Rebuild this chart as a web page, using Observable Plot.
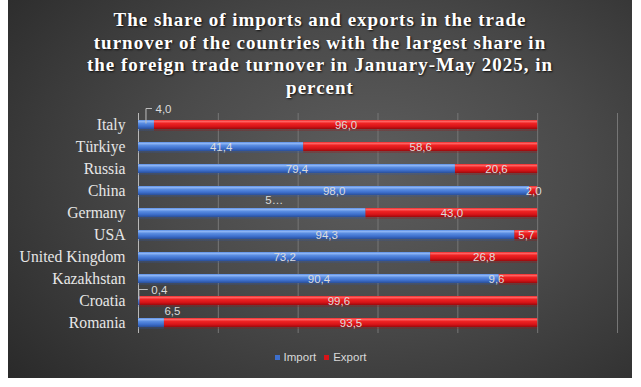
<!DOCTYPE html>
<html>
<head>
<meta charset="utf-8">
<script src="https://cdn.jsdelivr.net/npm/d3@7"></script>
<script src="https://cdn.jsdelivr.net/npm/@observablehq/plot@0.6"></script>
<style>
  html, body { margin: 0; padding: 0; background: #ffffff; }
  #wrap { position: relative; width: 641px; height: 387px; overflow: hidden; }
  #bg { position: absolute; left: 8px; top: 0px; width: 624px; height: 378px;
        background: radial-gradient(ellipse 75% 85% at 58% 45%, #5e5e5e 0%, #4a4a4a 45%, #2a2a2a 100%); }
  #title { position: absolute; left: 8px; top: 9px; width: 624px; text-align: center;
           font-family: "Liberation Serif", serif; font-weight: bold; font-size: 19px;
           line-height: 22.5px; letter-spacing: 1px; color: #ffffff;
           text-shadow: 1px 1px 2px rgba(0,0,0,0.8); }
  #legend { position: absolute; top: 351px; left: 0; width: 641px; text-align: center;
            font-family: "Liberation Sans", sans-serif; font-size: 11.5px; color: #d9d9d9; }
  #legend span.item { display: inline-block; margin: 0 4px; }
  #legend span.sw { display: inline-block; width: 5px; height: 5px; margin-right: 4px; vertical-align: 1px; }
  #chart { position: absolute; left: 0; top: 0; }
</style>
</head>
<body>
<div id="wrap">
  <div id="bg"></div>
  <div id="chart"></div>
  <div id="title">The share of imports and exports in the trade<br>turnover of the countries with the largest share in<br>the foreign trade turnover in January-May 2025, in<br>percent</div>
  <div id="legend"></div>
</div>
<script>
const countries = ["Italy", "Türkiye", "Russia", "China", "Germany", "USA", "United Kingdom", "Kazakhstan", "Croatia", "Romania"];
const importShare = [4.0, 41.4, 79.4, 98.0, 57.0, 94.3, 73.2, 90.4, 0.4, 6.5];
const exportShare = [96.0, 58.6, 20.6, 2.0, 43.0, 5.7, 26.8, 9.6, 99.6, 93.5];
const seriesNames = ["Import", "Export"];
const xTicks = [0, 20, 40, 60, 80, 100, 120];

// label placement tweaks (styling only)
const labelTweaks = {
  "Italy|Import": {dx: 9, dy: -16, anchor: "start", leader: true},
  "Croatia|Import": {dx: 12, dy: -11, anchor: "start", leader: true},
  "Romania|Import": {dx: 21, dy: -12},
  "Germany|Import": {dx: 22, dy: -13, text: "5…"},
  "Kazakhstan|Export": {dx: -22}
};

const fmt = v => v.toFixed(1).replace(".", ",");

const rows = [];
const labels = [];
countries.forEach((c, i) => {
  const vals = [importShare[i], exportShare[i]];
  let acc = 0;
  vals.forEach((v, k) => {
    rows.push({country: c, type: seriesNames[k], value: v});
    const key = c + "|" + seriesNames[k];
    const t = labelTweaks[key] || {};
    labels.push({country: c, type: seriesNames[k], mid: acc + v / 2, text: t.text || fmt(v),
                 dx: t.dx || 0, dy: t.dy || 0, anchor: t.anchor || "middle", leader: !!t.leader});
    acc += v;
  });
});

const labelMarks = labels.map(d =>
  Plot.text([d], {x: "mid", y: "country", text: "text", dx: d.dx, dy: d.dy, textAnchor: d.anchor,
    fill: "#dcdcdc", fontSize: 11.5, fontFamily: "Liberation Sans, sans-serif"}));

const chart = Plot.plot({
  width: 641,
  height: 387,
  marginLeft: 138,
  marginRight: 24,
  marginTop: 113,
  marginBottom: 54,
  style: {background: "transparent", overflow: "visible"},
  x: {domain: [0, 120], ticks: xTicks, axis: null},
  y: {domain: countries, paddingInner: 0.6, paddingOuter: 0.3, label: null},
  color: {domain: seriesNames, range: ["url(#gBlue)", "url(#gRed)"]},
  marks: [
    Plot.gridX(xTicks.slice(1), {stroke: "#767676", strokeOpacity: 1, strokeWidth: 1}),
    Plot.ruleX([0], {stroke: "#b8b8b8", strokeWidth: 1}),
    Plot.barX(rows, Plot.stackX({x: "value", y: "country", fill: "type", order: seriesNames,
      dy: 2, fillOpacity: 0.25})),
    Plot.barX(rows, Plot.stackX({x: "value", y: "country", fill: "type", order: seriesNames})),
    Plot.axisY({tickSize: 0, tickPadding: 13, fontSize: 15.7, fontFamily: "Liberation Serif, serif", color: "#e6e6e6", label: null}),
    ...labelMarks
  ]
});

// gradients for bevelled bars
const svg = d3.select(chart);
const defs = svg.insert("defs", ":first-child");
function grad(id, stops) {
  const g = defs.append("linearGradient").attr("id", id).attr("x1", 0).attr("y1", 0).attr("x2", 0).attr("y2", 1);
  stops.forEach(([o, c]) => g.append("stop").attr("offset", o).attr("stop-color", c));
}
grad("gBlue", [[0, "#5b8fe6"], [0.18, "#8fb6f5"], [0.35, "#5c8fe3"], [0.7, "#3d6fcc"], [1, "#2a4f99"]]);
grad("gRed", [[0, "#f02a2a"], [0.18, "#ff6464"], [0.35, "#f02424"], [0.7, "#d81418"], [1, "#9a0a0c"]]);

// leader lines from small segments to their labels
const xs = chart.scale("x"), ys = chart.scale("y");
labels.filter(d => d.leader).forEach(d => {
  const x0 = xs.apply(d.mid);
  const yc = ys.apply(d.country) + ys.bandwidth / 2;
  const yl = yc + d.dy;
  svg.append("path")
    .attr("d", `M${x0},${yc - 1}V${yl}H${x0 + d.dx - 3}`)
    .attr("fill", "none").attr("stroke", "#bdbdbd").attr("stroke-width", 1);
});

document.getElementById("chart").appendChild(chart);

// legend
const legendColors = {Import: "#3d6fcc", Export: "#d81418"};
document.getElementById("legend").innerHTML = seriesNames.map(n =>
  `<span class="item"><span class="sw" style="background:${legendColors[n]}"></span>${n}</span>`).join("");
</script>
</body>
</html>
